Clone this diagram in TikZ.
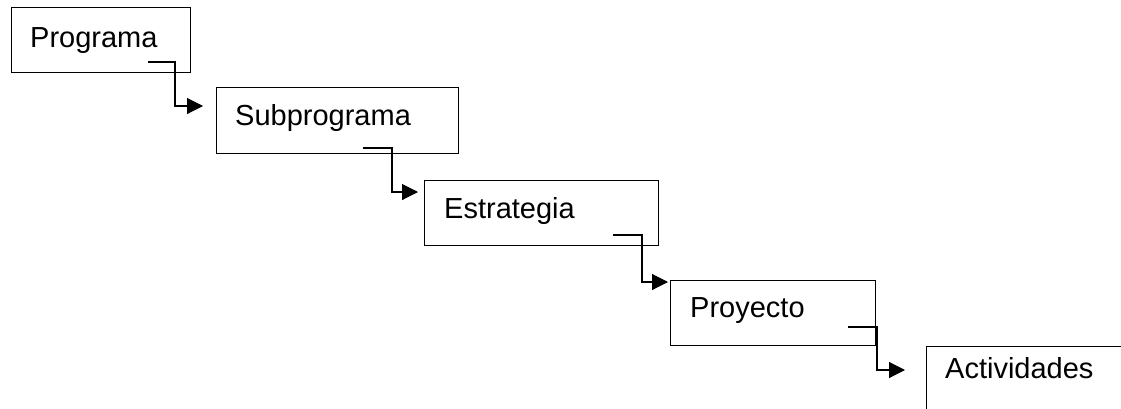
\documentclass[tikz,border=0pt]{standalone}
\usepackage{fontspec}
\setmainfont{Liberation Sans}
\usetikzlibrary{arrows.meta}
\begin{document}
\begin{tikzpicture}[x=1pt,y=-1pt,
  box/.style={draw,line width=1.3pt,anchor=north west,inner sep=0pt},
  lbl/.style={anchor=base west,inner sep=0pt,font=\fontsize{29}{34}\selectfont},
  conn/.style={draw,line width=1.1pt,-{Triangle[length=16pt,width=16pt]}}]
\useasboundingbox (0,0) rectangle (1121,408);
\clip (0,0) rectangle (1121,408);
% boxes
\node[box,minimum width=179pt,minimum height=65pt] (b1) at (11,7) {};
\node[box,minimum width=242pt,minimum height=66pt] (b2) at (216,87) {};
\node[box,minimum width=234pt,minimum height=65pt] (b3) at (424,180) {};
\node[box,minimum width=205pt,minimum height=65pt] (b4) at (670,280) {};
\node[box,minimum width=220pt,minimum height=90pt] (b5) at (926,346) {};
% labels
\node[lbl] (t1) at (30,47) {Programa};
\node[lbl] (t2) at (235,125) {Subprograma};
\node[lbl] (t3) at (444,218) {Estrategia};
\node[lbl] (t4) at (690,317) {Proyecto};
\node[lbl] (t5) at (945,378) {Actividades};
% connector ends
\coordinate (s1) at (148,62);  \coordinate (e1) at (203,106);
\coordinate (s2) at (363,148); \coordinate (e2) at (418,192);
\coordinate (s3) at (613,235); \coordinate (e3) at (668,282);
\coordinate (s4) at (848,327); \coordinate (e4) at (905,370);
\draw[conn] (s1) -- ++(27,0) |- (e1);
\draw[conn] (s2) -- ++(29,0) |- (e2);
\draw[conn] (s3) -- ++(29,0) |- (e3);
\draw[conn] (s4) -- ++(29,0) |- (e4);
\end{tikzpicture}
\end{document}
